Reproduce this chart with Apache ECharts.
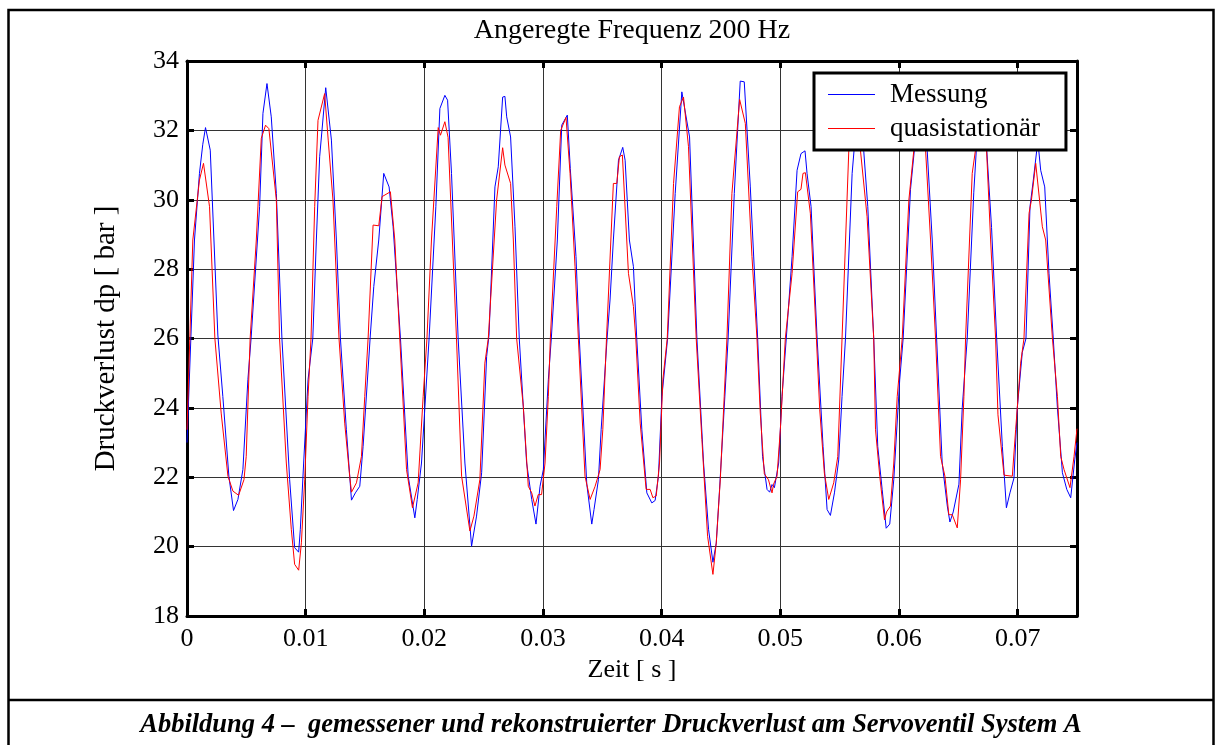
<!DOCTYPE html>
<html>
<head>
<meta charset="utf-8">
<script src="https://cdn.jsdelivr.net/npm/echarts@6/dist/echarts.min.js"></script>
<style>
  html, body { margin: 0; padding: 0; background: #fff; }
  #chart { width: 1216px; height: 745px; }
</style>
</head>
<body>
<div id="chart"></div>
<script>
// ---- Data (time in ms, pressure loss in bar) ----
const messungT = [0,0.63,1.05,1.33,1.56,1.96,2.6,3.02,3.53,3.92,4.29,4.71,5.13,5.4,6.12,6.4,6.74,7.1,7.53,8.0,
  8.65,9.07,9.41,9.55,9.83,10.2,10.6,10.9,11.18,11.69,12.17,12.59,12.93,13.43,13.86,14.19,14.56,14.84,15.45,15.74,
  16.16,16.58,17.03,17.37,17.99,18.64,19.2,19.4,19.76,20.4,20.97,21.31,21.73,21.96,22.29,22.85,23.42,23.98,24.4,24.83,
  25.25,25.45,25.95,26.23,26.6,26.79,26.94,27.27,27.64,28.0,28.62,29.05,29.41,29.75,30.03,30.45,30.7,31.21,31.58,32.05,
  32.3,32.78,33.06,33.69,34.11,34.3,34.67,34.9,35.4,35.65,35.93,36.36,36.72,36.92,37.28,37.62,37.9,38.33,38.75,39.17,
  39.45,39.73,40.02,40.5,41.14,41.7,41.84,42.35,42.97,43.53,43.95,44.32,44.6,44.88,45.27,45.6,46.12,46.62,46.96,47.47,
  48.09,48.5,48.88,49.1,49.3,49.5,49.86,50.14,50.5,50.99,51.41,51.74,52.08,52.25,52.59,53.1,53.6,53.94,54.22,54.56,
  54.92,55.2,55.49,56.05,56.5,57.03,57.37,57.87,58.21,58.58,58.92,59.22,59.56,60.06,60.35,60.97,61.6,62.38,62.8,63.17,
  63.64,64.07,64.29,64.57,65.05,65.33,65.75,66.3,66.7,67.4,67.8,68.23,68.71,69.05,69.35,69.69,69.97,70.39,70.7,71.04,
  71.32,71.7,71.94,72.28,72.64,73.0,73.35,73.77,74.14,74.47,74.81,75.0];
const messungV = [23.0,28.84,30.76,31.6,32.08,31.43,26.1,24.33,22.03,21.04,21.36,22.22,24.81,26.0,29.8,32.49,33.35,32.39,30.18,26.0,
  21.93,19.97,19.84,20.5,22.41,24.81,26.0,28.84,31.24,33.23,31.72,28.84,26.0,23.37,21.34,21.55,21.74,22.89,26.1,27.5,
  28.84,30.76,30.37,29.22,26.0,22.03,20.83,21.36,22.41,26.0,29.8,32.63,33.01,32.87,30.76,26.0,22.41,20.01,20.88,22.13,
  25.48,26.1,30.37,30.95,32.96,32.98,32.39,31.81,29.22,26.0,22.41,21.36,20.65,21.74,22.22,24.81,26.0,28.84,32.15,32.44,
  30.9,28.36,26.0,21.8,20.65,21.07,21.93,23.37,26.0,27.11,28.84,31.14,31.51,31.14,28.84,28.07,26.0,23.37,21.55,21.26,
  21.33,22.03,24.33,26.0,30.18,33.11,33.12,31.81,26.0,22.41,20.5,19.55,20.1,21.65,24.0,26.0,30.18,33.42,33.4,30.37,
  26.0,22.6,21.65,21.57,21.79,21.7,22.41,24.33,26.0,28.36,30.85,31.33,31.41,30.76,29.8,26.0,22.89,21.07,20.9,21.55,
  22.5,24.33,26.0,30.76,32.6,31.4,29.8,26.0,22.89,21.65,20.53,20.65,21.93,24.81,26.0,30.3,32.5,31.4,28.84,26.0,
  22.41,21.17,20.71,21.0,21.8,24.0,26.0,30.2,32.5,31.4,29.2,26.0,22.89,21.12,21.55,21.98,24.0,25.6,26.0,29.8,
  30.57,31.7,30.85,30.37,27.88,26.0,24.0,22.13,21.65,21.41,22.5,23.0];

const quasiT = [0,0.49,1.05,1.39,1.9,2.35,2.88,3.45,3.87,4.35,4.8,4.99,5.32,5.84,6.26,6.62,6.9,7.53,7.8,8.37,
  8.79,9.07,9.41,9.64,9.92,10.2,10.45,10.76,11.04,11.6,11.9,12.3,12.81,13.29,13.71,13.86,14.28,14.7,14.98,15.26,
  15.68,16.16,16.44,17.14,17.51,17.93,18.5,19.0,19.48,19.9,20.22,20.6,21.17,21.36,21.73,22.0,22.71,23.14,23.84,24.18,
  24.68,25.1,25.39,26.09,26.6,26.79,27.27,27.5,27.78,28.34,28.76,29.05,29.32,29.6,29.88,30.17,30.45,30.62,31.16,31.49,
  31.94,32.28,32.7,32.98,33.54,33.97,34.39,34.81,35.04,35.35,35.93,36.22,36.44,36.69,37.2,37.62,37.82,38.19,38.69,39.03,
  39.26,39.54,39.82,40.1,40.47,41.0,41.5,41.84,42.26,42.91,43.39,43.87,44.32,44.6,44.94,45.27,45.5,45.92,46.57,47.05,
  47.61,48.03,48.31,48.65,49.0,49.3,49.43,49.72,50.0,50.42,50.99,51.46,51.74,51.91,52.11,52.53,53.04,53.32,53.71,54.08,
  54.5,54.84,55.2,55.77,56.3,56.75,57.31,57.87,58.02,58.38,58.78,58.95,59.28,59.56,59.85,60.27,60.83,61.25,61.7,62.24,
  62.66,63.08,63.5,63.87,64.2,64.49,64.91,65.19,65.47,65.61,66.17,66.8,67.38,67.72,68.14,68.34,68.85,69.55,69.83,70.25,
  70.53,70.96,71.16,71.52,71.66,72.08,72.36,72.93,73.35,73.63,73.91,74.41,74.75,75.0];
const quasiV = [23.37,28.84,30.57,31.05,29.8,26.0,23.85,22.03,21.6,21.48,21.93,22.6,26.0,28.84,31.77,32.15,32.05,29.99,26.0,22.41,
  20.5,19.49,19.32,20.11,21.93,24.33,26.0,29.8,32.29,33.06,31.72,29.99,26.0,23.56,22.03,21.57,21.84,22.6,24.33,26.0,
  29.27,29.25,30.09,30.23,28.84,26.0,22.22,21.12,21.84,24.33,26.0,28.84,32.08,31.86,32.25,31.8,26.0,22.03,20.45,20.88,
  21.93,25.29,26.0,29.99,31.5,31.0,30.47,28.84,26.0,24.04,21.74,21.55,21.17,21.5,21.5,22.41,24.33,26.0,29.8,32.0,
  32.37,30.76,28.07,26.0,22.03,21.36,21.74,22.22,23.37,26.0,30.47,30.47,31.24,31.29,27.88,26.92,26.0,23.56,21.65,21.65,
  21.41,21.46,22.41,24.81,26.0,30.47,32.68,32.96,31.53,26.0,23.09,20.3,19.2,20.11,21.93,24.33,26.0,30.18,32.89,32.2,
  28.36,26.0,23.85,22.1,21.93,21.55,21.8,22.03,23.37,26.0,27.88,30.23,30.3,30.76,30.78,29.61,26.0,23.95,22.12,21.36,
  21.84,22.6,26.0,31.43,32.4,31.43,29.51,26.0,23.37,22.03,20.77,21.0,21.17,22.41,24.33,26.0,29.99,31.43,32.3,31.43,
  28.84,26.0,22.6,22.03,20.92,20.92,20.54,21.93,24.33,26.0,30.76,32.3,31.43,28.84,26.0,23.8,22.06,22.03,23.37,25.29,
  26.0,29.61,29.99,31.05,31.1,29.22,28.84,26.0,24.33,22.6,22.22,21.7,22.6,23.4];

const seriesNames = ['Messung', 'quasistationär'];
const titleText = 'Angeregte Frequenz 200 Hz';
const captionText = 'Abbildung 4 –  gemessener und rekonstruierter Druckverlust am Servoventil System A';
const xName = 'Zeit [ s ]';
const yName = 'Druckverlust dp [ bar ]';
const xMin = 0, xMax = 0.075, xStep = 0.01;
const yMin = 18, yMax = 34, yStep = 2;

const toPairs = (t, v) => t.map((ms, i) => [ms / 1000, v[i]]);

const FONT = '"Liberation Serif", "Times New Roman", serif';
const chart = echarts.init(document.getElementById('chart'), null, { renderer: 'canvas' });

const tickStyle = { show: true, inside: true, length: 7, lineStyle: { color: '#000', width: 3 } };
const axisLineStyle = { show: true, onZero: false, lineStyle: { color: '#000', width: 3 } };
const lineIcon = 'path://M0,0 L47,0 L47,1 L0,1 Z';

chart.setOption({
  backgroundColor: '#fff',
  animation: false,
  grid: { left: 187, right: 139, top: 61, bottom: 129, containLabel: false },
  legend: {
    data: seriesNames.map(n => ({ name: n, icon: lineIcon })),
    orient: 'vertical',
    left: 814, top: 73,
    z: 10,
    backgroundColor: '#fff',
    borderColor: '#000', borderWidth: 3,
    padding: [8, 26, 8, 14],
    itemGap: 7, itemWidth: 47, itemHeight: 28,
    symbolKeepAspect: true,
    textStyle: { fontFamily: FONT, fontSize: 27, color: '#000', padding: [0, 0, 0, 10] }
  },
  xAxis: [{
    type: 'value', min: xMin, max: xMax, interval: xStep,
    name: xName, nameLocation: 'middle', nameGap: 36,
    nameTextStyle: { fontFamily: FONT, fontSize: 26, color: '#000' },
    axisLine: axisLineStyle, axisTick: tickStyle,
    axisLabel: { fontFamily: FONT, fontSize: 26, color: '#000', margin: 10, showMaxLabel: false,
      formatter: v => v === 0 ? '0' : v.toFixed(2) },
    splitLine: { show: true, lineStyle: { color: '#333', width: 1 } }
  }, {
    type: 'value', min: xMin, max: xMax, interval: xStep, position: 'top',
    axisLine: axisLineStyle, axisTick: tickStyle,
    axisLabel: { show: false }, splitLine: { show: false }
  }],
  yAxis: [{
    type: 'value', min: yMin, max: yMax, interval: yStep,
    name: yName, nameLocation: 'middle', nameGap: 66, nameRotate: 90,
    nameTextStyle: { fontFamily: FONT, fontSize: 29, color: '#000' },
    axisLine: axisLineStyle, axisTick: tickStyle,
    axisLabel: { fontFamily: FONT, fontSize: 26, color: '#000', margin: 8 },
    splitLine: { show: true, lineStyle: { color: '#333', width: 1 } }
  }, {
    type: 'value', min: yMin, max: yMax, interval: yStep, position: 'right',
    axisLine: axisLineStyle, axisTick: tickStyle,
    axisLabel: { show: false }, splitLine: { show: false }
  }],
  series: [{
    name: seriesNames[0], type: 'line', xAxisIndex: 0, yAxisIndex: 0,
    data: toPairs(messungT, messungV), symbol: 'none', smooth: false,
    lineStyle: { color: '#0000ff', width: 1 }, itemStyle: { color: '#0000ff' }
  }, {
    name: seriesNames[1], type: 'line', xAxisIndex: 0, yAxisIndex: 0,
    data: toPairs(quasiT, quasiV), symbol: 'none', smooth: false,
    lineStyle: { color: '#ff0000', width: 1 }, itemStyle: { color: '#ff0000' }
  }],
  graphic: [
    { type: 'rect', silent: true, shape: { x: 8.5, y: 10, width: 1205, height: 745 },
      style: { fill: null, stroke: '#000', lineWidth: 2.5 } },
    { type: 'line', silent: true, shape: { x1: 8.5, y1: 700, x2: 1214, y2: 700 },
      style: { stroke: '#000', lineWidth: 2.5 } },
    { type: 'text', silent: true, x: 632, y: 30.5,
      style: { text: titleText, font: '28px ' + FONT, fill: '#000', align: 'center', verticalAlign: 'middle' } },
    { type: 'text', silent: true, x: 611, y: 725,
      style: { text: captionText, font: 'italic bold 26.5px ' + FONT, fill: '#000', align: 'center', verticalAlign: 'middle' } }
  ]
});
</script>
</body>
</html>
